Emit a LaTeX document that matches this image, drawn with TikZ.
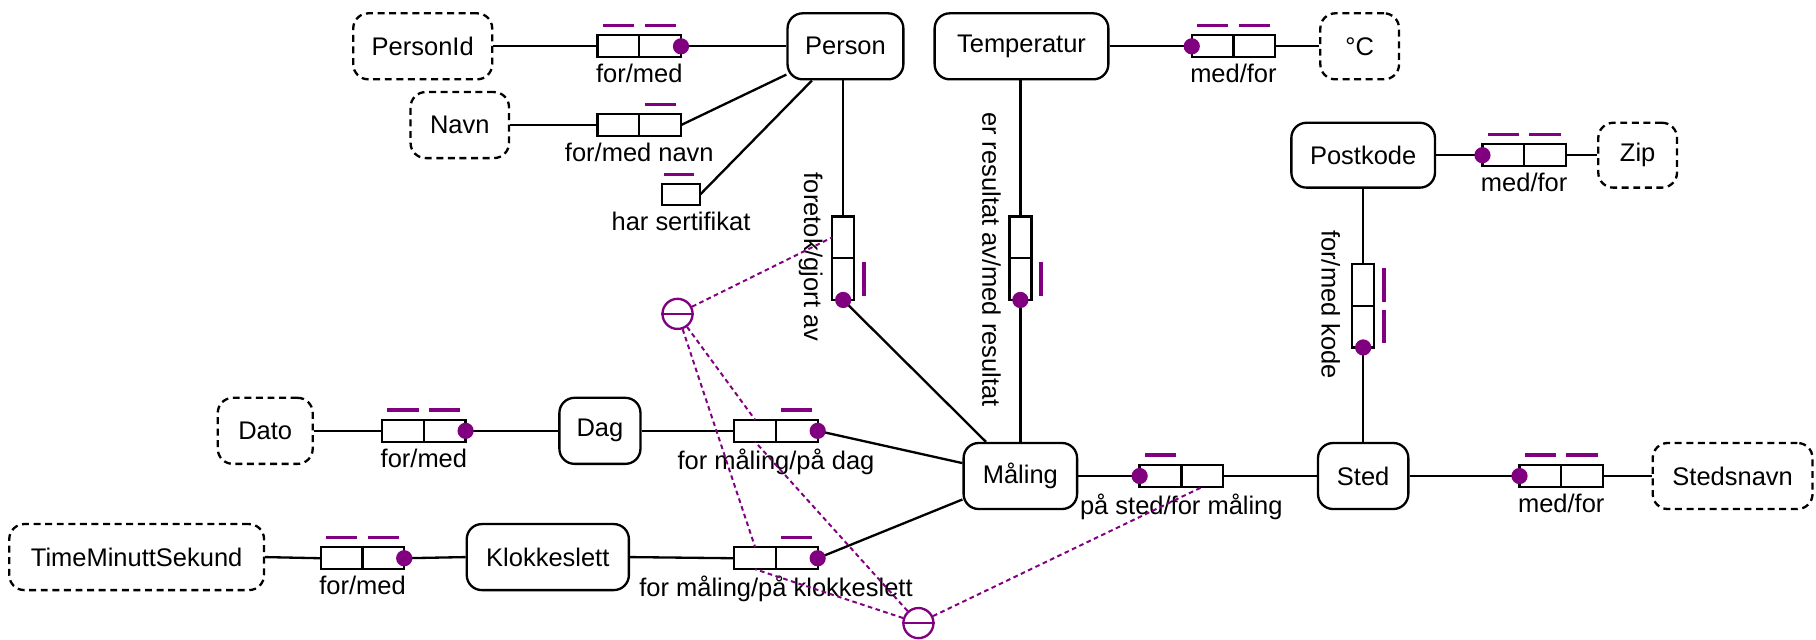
\documentclass[tikz,border=0pt]{standalone}
\usepackage{fontspec}
\setmainfont{Liberation Sans}
\usetikzlibrary{calc}
\definecolor{ormpurple}{RGB}{128,0,128}
\newcommand\ormbarh[1]{\draw[ubar] ([xshift=4.5pt,yshift=8.5pt]#1.north west) -- ([xshift=-4.5pt,yshift=8.5pt]#1.north east);}
\newcommand\ormbarv[1]{\draw[ubar] ([xshift=8.5pt,yshift=-3.5pt]#1.north east) -- ([xshift=8.5pt,yshift=3.5pt]#1.south east);}
\begin{document}
\begin{tikzpicture}[x=1pt,y=-1pt, font=\fontsize{22}{26}\selectfont,
  ent/.style={draw, rounded corners=13pt, line width=2pt, minimum height=57pt, inner sep=0pt},
  val/.style={ent, dash pattern=on 6pt off 4pt},
  cell/.style={draw, line width=2pt, minimum width=36pt, minimum height=19pt, inner sep=0pt, outer sep=0pt},
  vcell/.style={draw, line width=2pt, minimum width=19pt, minimum height=36pt, inner sep=0pt, outer sep=0pt},
  conn/.style={line width=2pt},
  ubar/.style={draw=ormpurple, line width=3pt},
  mand/.style={fill=ormpurple, circle, inner sep=0pt, minimum size=14pt},
  excl/.style={draw=ormpurple, circle, line width=2pt, minimum size=26pt, inner sep=0pt},
  cline/.style={draw=ormpurple, line width=1.7pt, dash pattern=on 4pt off 3pt},
  lbl/.style={inner sep=0pt, anchor=north, yshift=-6pt},
  rlbl/.style={inner sep=0pt, rotate=-90}
]
\useasboundingbox (0,0) rectangle (1568,552);

% entity / value types
\node[val, minimum width=120pt] (PersonId) at (365,40) {PersonId};
\node[ent, minimum width=100pt] (Person) at (730,40) {Person};
\node[val, minimum width=85pt] (Navn) at (397,108) {Navn};
\node[ent, minimum width=150pt] (Temperatur) at (882,40) {Temperatur};
\node[val, minimum width=68pt] (Celsius) at (1174,40) {°C};
\node[ent, minimum width=124pt, minimum height=56pt] (Postkode) at (1177,134) {Postkode};
\node[val, minimum width=68pt, minimum height=56pt] (Zip) at (1414,134) {Zip};
\node[ent, minimum width=98pt] (Maling) at (881,411) {Måling};
\node[ent, minimum width=78pt] (Sted) at (1177,411) {Sted};
\node[val, minimum width=138pt] (Stedsnavn) at (1496,411) {Stedsnavn};
\node[val, minimum width=82pt] (Dato) at (229,372) {Dato};
\node[ent, minimum width=70pt] (Dag) at (518,372) {Dag};
\node[val, minimum width=220pt] (TMS) at (118,481) {TimeMinuttSekund};
\node[ent, minimum width=140pt] (Klokkeslett) at (473,481) {Klokkeslett};

% role boxes
\node[cell] (f1a) at (534,40) {}; \node[cell] (f1b) at (570,40) {};
\node[cell] (f2a) at (534,108) {}; \node[cell] (f2b) at (570,108) {};
\node[cell, minimum width=33pt, minimum height=18pt] (s1) at (588,168) {};
\node[cell] (f3a) at (1047,40) {}; \node[cell] (f3b) at (1083,40) {};
\node[cell] (f5a) at (1298,134) {}; \node[cell] (f5b) at (1334,134) {};
\node[cell] (f7a) at (1002,411) {}; \node[cell] (f7b) at (1038,411) {};
\node[cell] (f8a) at (1330,411) {}; \node[cell] (f8b) at (1366,411) {};
\node[cell] (f9a) at (348,372) {}; \node[cell] (f9b) at (384,372) {};
\node[cell] (f10a) at (652,372) {}; \node[cell] (f10b) at (688,372) {};
\node[cell] (f11a) at (295,482) {}; \node[cell] (f11b) at (331,482) {};
\node[cell] (f12a) at (652,482) {}; \node[cell] (f12b) at (688,482) {};
\node[vcell] (f4a) at (728,205) {}; \node[vcell] (f4b) at (728,241) {};
\node[vcell] (f6a) at (881,205) {}; \node[vcell] (f6b) at (881,241) {};
\node[vcell] (f13a) at (1177,246) {}; \node[vcell] (f13b) at (1177,282) {};

% connectors
\draw[conn] (PersonId.east) -- (f1a.west);
\draw[conn] (f1b.east) -- (Person.west);
\draw[conn] (Navn.east) -- (f2a.west);
\draw[conn] (f2b.east) -- (Person);
\draw[conn] (s1.east) -- (Person);
\draw[conn] (Person.south -| f4a.north) -- (f4a.north);
\draw[conn] (f4b.south) -- (Maling);
\draw[conn] (Temperatur.east) -- (f3a.west);
\draw[conn] (f3b.east) -- (Celsius.west);
\draw[conn] (Temperatur.south -| f6a.north) -- (f6a.north);
\draw[conn] (f6b.south) -- (Maling.north -| f6b.south);
\draw[conn] (Postkode.east) -- (f5a.west);
\draw[conn] (f5b.east) -- (Zip.west);
\draw[conn] (Postkode.south -| f13a.north) -- (f13a.north);
\draw[conn] (f13b.south) -- (Sted.north -| f13b.south);
\draw[conn] (Maling.east) -- (f7a.west);
\draw[conn] (f7b.east) -- (Sted.west);
\draw[conn] (Sted.east) -- (f8a.west);
\draw[conn] (f8b.east) -- (Stedsnavn.west);
\draw[conn] (Dato.east) -- (f9a.west);
\draw[conn] (f9b.east) -- (Dag.west);
\draw[conn] (Dag.east) -- (f10a.west);
\draw[conn] (f10b.east) -- (Maling);
\draw[conn] (TMS.east) -- (f11a.west);
\draw[conn] (f11b.east) -- (Klokkeslett.west);
\draw[conn] (Klokkeslett.east) -- (f12a.west);
\draw[conn] (f12b.east) -- (Maling);

% uniqueness bars
\ormbarh{f1a} \ormbarh{f1b}
\ormbarh{f2b}
\draw[ubar] ([xshift=2pt,yshift=8.5pt]s1.north west) -- ([xshift=-5pt,yshift=8.5pt]s1.north east);
\ormbarh{f3a} \ormbarh{f3b}
\ormbarh{f5a} \ormbarh{f5b}
\ormbarh{f7a}
\ormbarh{f8a} \ormbarh{f8b}
\ormbarh{f9a} \ormbarh{f9b}
\ormbarh{f10b}
\ormbarh{f11a} \ormbarh{f11b}
\ormbarh{f12b}
\ormbarv{f4b}
\ormbarv{f6b}
\ormbarv{f13a} \ormbarv{f13b}

% mandatory dots
\node[mand] (d1) at (f1b.east) {};
\node[mand] (d3) at (f3a.west) {};
\node[mand] (d5) at (f5a.west) {};
\node[mand] (d7) at (f7a.west) {};
\node[mand] (d8) at (f8a.west) {};
\node[mand] (d9) at (f9b.east) {};
\node[mand] (d10) at (f10b.east) {};
\node[mand] (d11) at (f11b.east) {};
\node[mand] (d12) at (f12b.east) {};
\node[mand] (d4) at (f4b.south) {};
\node[mand] (d6) at (f6b.south) {};
\node[mand] (d13) at (f13b.south) {};

% labels
\node[lbl] (l1) at ($(f1a.south)!0.5!(f1b.south)$) {for/med};
\node[lbl] (l2) at ($(f2a.south)!0.5!(f2b.south)$) {for/med navn};
\node[lbl] (ls) at (s1.south) {har sertifikat};
\node[lbl] (l3) at ($(f3a.south)!0.5!(f3b.south)$) {med/for};
\node[lbl] (l5) at ($(f5a.south)!0.5!(f5b.south)$) {med/for};
\node[lbl] (l7) at ($(f7a.south)!0.5!(f7b.south)$) {på sted/for måling};
\node[lbl] (l8) at ($(f8a.south)!0.5!(f8b.south)$) {med/for};
\node[lbl] (l9) at ($(f9a.south)!0.5!(f9b.south)$) {for/med};
\node[lbl] (l10) at ($(f10a.south)!0.5!(f10b.south)$) {for måling/på dag};
\node[lbl] (l11) at ($(f11a.south)!0.5!(f11b.south)$) {for/med};
\node[lbl] (l12) at ($(f12a.south)!0.5!(f12b.south)$) {for måling/på klokkeslett};
\node[rlbl] (l4) at (700,222) {foretok/gjort av};
\node[rlbl] (l6) at (856,224) {er resultat av/med resultat};
\node[rlbl] (l13) at (1149,263) {for/med kode};

% external uniqueness constraints
\node[excl] (U1) at (585,271) {};
\node[excl] (U2) at (793,538) {};
\draw[ormpurple, line width=2pt] (U1.west) -- (U1.east);
\draw[ormpurple, line width=2pt] (U2.west) -- (U2.east);
\draw[cline] (U1) -- (f4a.west);
\draw[cline] (U1) -- (f10a.north);
\draw[cline] (U1) -- (f12a.north);
\draw[cline] (U2) -- (f10a.south);
\draw[cline] (U2) -- (f12a.south);
\draw[cline] (U2) -- (f7b.south);
\end{tikzpicture}
\end{document}
